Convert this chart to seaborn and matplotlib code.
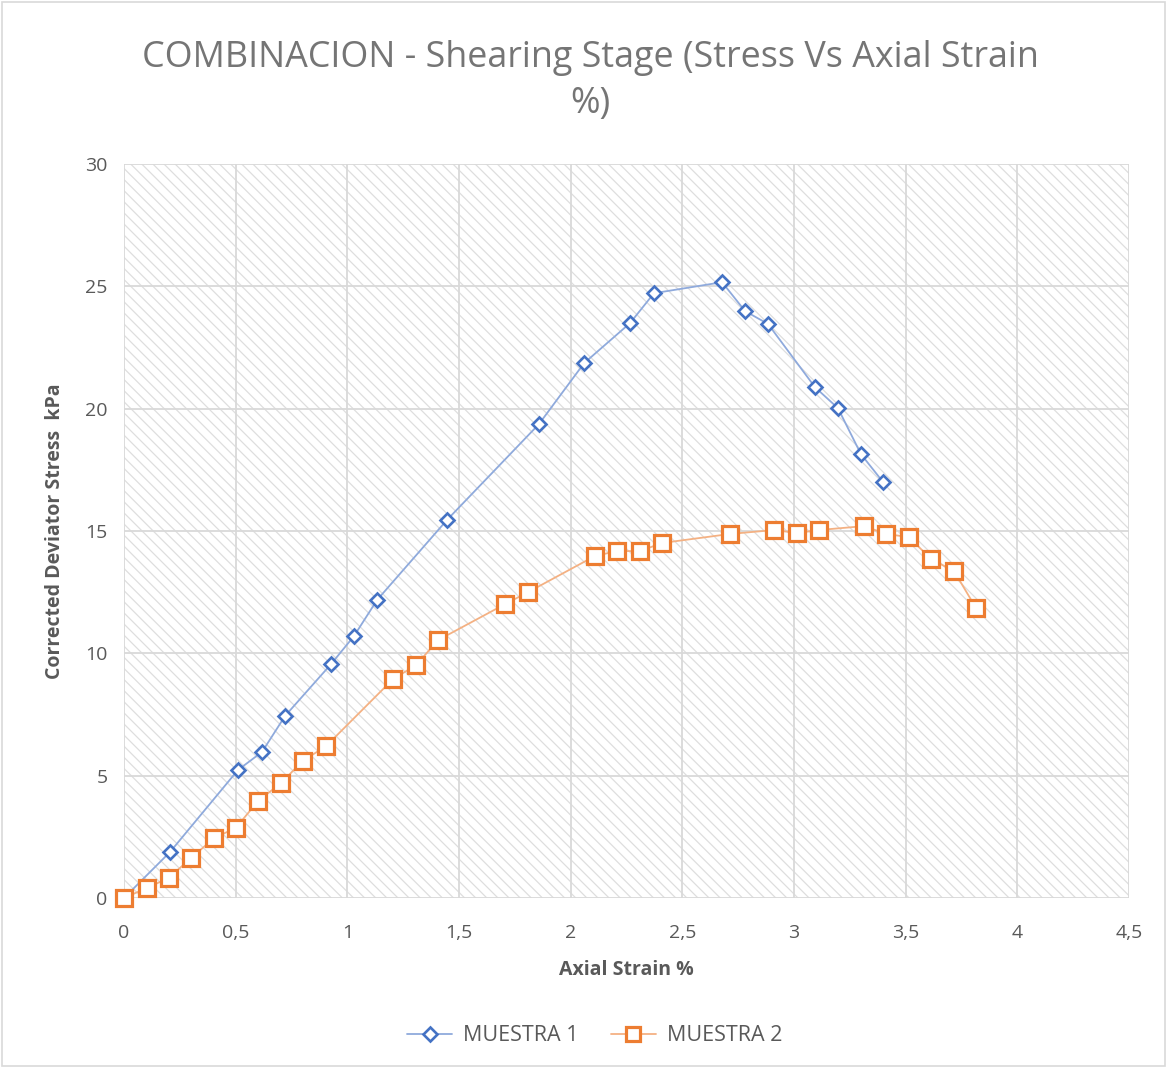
import matplotlib
matplotlib.use("Agg")
import matplotlib.pyplot as plt
import seaborn as sns
from matplotlib.patches import Rectangle

strain_1 = [0.0, 0.206, 0.51, 0.618, 0.721, 0.927, 1.03, 1.133, 1.446, 1.858, 2.06,
            2.266, 2.373, 2.678, 2.781, 2.884, 3.094, 3.197, 3.30, 3.399]
stress_1 = [0.0, 1.88, 5.23, 5.97, 7.44, 9.56, 10.71, 12.18, 15.45, 19.37, 21.86,
            23.5, 24.72, 25.17, 23.99, 23.46, 20.88, 20.02, 18.14, 17.0]

strain_2 = [0.0, 0.103, 0.2, 0.3, 0.403, 0.50, 0.60, 0.703, 0.80, 0.905, 1.205, 1.308,
            1.406, 1.706, 1.809, 2.109, 2.208, 2.311, 2.409, 2.714, 2.911, 3.014, 3.112,
            3.314, 3.412, 3.515, 3.614, 3.717, 3.815]
stress_2 = [0.0, 0.41, 0.82, 1.63, 2.45, 2.86, 3.96, 4.70, 5.60, 6.21, 8.95, 9.52,
            10.54, 12.01, 12.5, 13.98, 14.18, 14.18, 14.51, 14.88, 15.04, 14.92, 15.04,
            15.2, 14.88, 14.75, 13.85, 13.36, 11.85]

x_ticks = [0, 0.5, 1, 1.5, 2, 2.5, 3, 3.5, 4, 4.5]
x_tick_labels = ["0", "0,5", "1", "1,5", "2", "2,5", "3", "3,5", "4", "4,5"]
y_ticks = [0, 5, 10, 15, 20, 25, 30]
y_tick_labels = ["0", "5", "10", "15", "20", "25", "30"]

sns.set_style("white")
plt.rcParams["font.family"] = ["Open Sans", "DejaVu Sans"]
plt.rcParams["hatch.color"] = "#dedede"
plt.rcParams["hatch.linewidth"] = 0.9

fig = plt.figure(figsize=(11.67, 10.68), dpi=100)
ax = fig.add_axes([0.1063, 0.1592, 0.9674 - 0.1063, 0.8464 - 0.1592])

# hatched plot background
ax.add_patch(Rectangle((0, 0), 1, 1, transform=ax.transAxes, facecolor="white",
                       edgecolor="#dedede", hatch="\\\\\\", linewidth=0, zorder=0))

blue = "#4472C4"
orange = "#ED7D31"

sns.lineplot(x=strain_1, y=stress_1, ax=ax, color="#8FAADC", linewidth=1.3,
             marker="D", markersize=7.5, markerfacecolor="white",
             markeredgecolor=blue, markeredgewidth=1.9, label="MUESTRA 1",
             sort=False, zorder=3, clip_on=False)
sns.lineplot(x=strain_2, y=stress_2, ax=ax, color="#F4B183", linewidth=1.3,
             marker="s", markersize=11.5, markerfacecolor="white",
             markeredgecolor=orange, markeredgewidth=2.3, label="MUESTRA 2",
             sort=False, zorder=4, clip_on=False)

ax.set_xlim(0, 4.5)
ax.set_ylim(0, 30)
ax.set_xticks(x_ticks)
ax.set_xticklabels(x_tick_labels)
ax.set_yticks(y_ticks)
ax.set_yticklabels(y_tick_labels)
ax.tick_params(axis="x", labelsize=14, colors="#595959", length=0, pad=19)
ax.tick_params(axis="y", labelsize=14, colors="#595959", length=0, pad=12)
ax.grid(True, color="#d9d9d9", linewidth=1.3, zorder=1)
ax.set_axisbelow(True)
for s in ax.spines.values():
    s.set_visible(False)

ax.set_xlabel("Axial Strain %", fontsize=14, fontweight="bold", color="#595959", labelpad=13)
ax.set_ylabel("Corrected Deviator Stress  kPa", fontsize=14, fontweight="bold",
              color="#595959", labelpad=14)

fig.text(0.506, 0.924, "COMBINACION - Shearing Stage (Stress Vs Axial Strain\n%)",
         ha="center", va="center", fontsize=25.8, color="#757575", linespacing=1.35)

leg = ax.legend(loc="center", bbox_to_anchor=(0.5094, 0.030), bbox_transform=fig.transFigure,
                ncol=2, frameon=False, fontsize=15.5, handlelength=2.1, columnspacing=1.5,
                handletextpad=0.5, markerscale=0.9)
for t in leg.get_texts():
    t.set_color("#595959")

fig.patches.append(Rectangle((0.002, 0.002), 0.996, 0.996, transform=fig.transFigure,
                             fill=False, edgecolor="#d9d9d9", linewidth=1.2))

fig.savefig("out.png", dpi=100, facecolor="white")
